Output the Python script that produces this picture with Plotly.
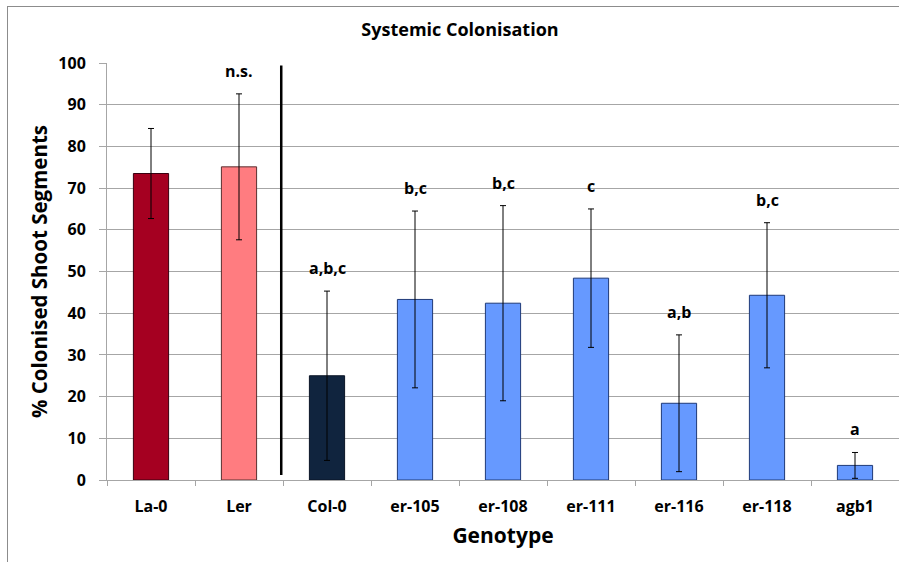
import plotly.graph_objects as go

genotypes = ["La-0", "Ler", "Col-0", "er-105", "er-108", "er-111", "er-116", "er-118", "agb1"]
mean_pct = [73.5, 75.1, 25.0, 43.3, 42.4, 48.4, 18.4, 44.3, 3.5]
err_pct = [10.8, 17.5, 20.3, 21.2, 23.4, 16.6, 16.4, 17.4, 3.1]
sig_labels = ["", "n.s.", "a,b,c", "b,c", "b,c", "c", "a,b", "b,c", "a"]

fill_colors = ["#A50021", "#FF7C80", "#10243E", "#6699FF", "#6699FF", "#6699FF",
               "#6699FF", "#6699FF", "#6699FF"]
edge_colors = ["#3A0010", "#5A3030", "#0A1426", "#1F3A78", "#1F3A78", "#1F3A78",
               "#1F3A78", "#1F3A78", "#1F3A78"]

FONT = "Open Sans"
W, H = 899, 562
ML, MR, MT, MB = 107, 0, 63, 82
pw, ph = W - ML - MR, H - MT - MB

fig = go.Figure()
fig.add_trace(go.Bar(
    x=genotypes, y=mean_pct, width=0.4,
    marker=dict(color=fill_colors, line=dict(color=edge_colors, width=1)),
    error_y=dict(type="data", array=err_pct, visible=True,
                 color="black", thickness=1, width=3),
    showlegend=False,
))

annotations = []
for g, m, e, s in zip(genotypes, mean_pct, err_pct, sig_labels):
    if s:
        annotations.append(dict(x=g, y=m + e, xref="x", yref="y", text="<b>%s</b>" % s,
                                showarrow=False, yanchor="bottom", yshift=10,
                                font=dict(family=FONT, size=16, color="black")))

def px_x(p):
    return (p - ML) / pw

def px_y(p):
    return (H - MB - p) / ph

shapes = [
    # separator between the two backgrounds
    dict(type="line", xref="x", yref="y", x0=1.48, x1=1.48, y0=1.2, y1=99.4,
         line=dict(color="black", width=2.5)),
    # chart-area border (top and left visible)
    dict(type="line", xref="paper", yref="paper", x0=px_x(7), x1=px_x(905),
         y0=px_y(6.5), y1=px_y(6.5), line=dict(color="#8C8C8C", width=1)),
    dict(type="line", xref="paper", yref="paper", x0=px_x(7.5), x1=px_x(7.5),
         y0=px_y(6.5), y1=px_y(570), line=dict(color="#8C8C8C", width=1)),
]

fig.update_layout(
    width=W, height=H,
    margin=dict(l=ML, r=MR, t=MT, b=MB),
    paper_bgcolor="white", plot_bgcolor="white",
    font=dict(family=FONT, color="black"),
    title=dict(text="<b>Systemic Colonisation</b>", x=460 / W, xanchor="center",
               y=1 - 30 / H, yanchor="middle",
               font=dict(family=FONT, size=18, color="black")),
    annotations=annotations,
    shapes=shapes,
    bargap=0.6,
)
fig.layout.title.xref = "container"
fig.layout.title.yref = "container"

fig.update_yaxes(
    range=[0, 100], dtick=10, showgrid=True, gridcolor="#A6A6A6", gridwidth=1,
    showline=True, linecolor="#A6A6A6", linewidth=1,
    ticks="outside", ticklen=7, tickcolor="#A6A6A6", ticklabelstandoff=10,
    tickfont=dict(family=FONT, size=16, color="black", weight="bold"),
    title=dict(text="<b>% Colonised Shoot Segments</b>", standoff=5,
               font=dict(family=FONT, size=20.5, color="black")),
    zeroline=False,
)
fig.update_xaxes(
    showline=True, linecolor="#A6A6A6", linewidth=1,
    ticks="outside", tickson="boundaries", ticklen=5, tickcolor="#A6A6A6",
    ticklabelstandoff=12,
    tickfont=dict(family=FONT, size=16, color="black", weight="bold"),
    title=dict(text="<b>Genotype</b>", standoff=12,
               font=dict(family=FONT, size=21, color="black")),
)

fig.write_html("out.html")
